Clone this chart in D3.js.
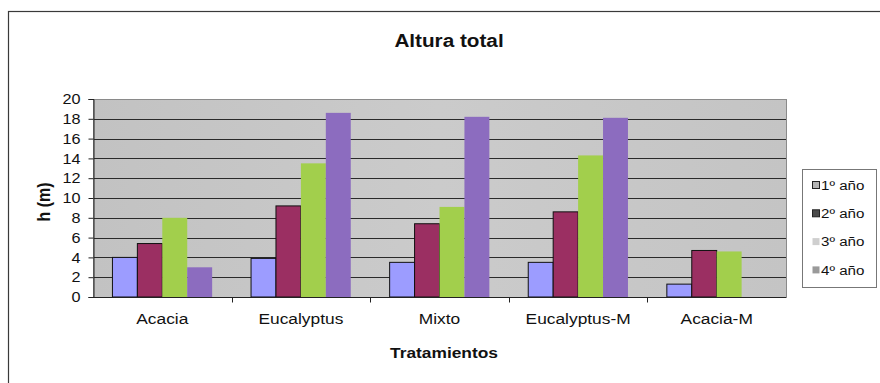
<!DOCTYPE html>
<html>
<head>
<meta charset="utf-8">
<script src="https://cdnjs.cloudflare.com/ajax/libs/d3/7.8.5/d3.min.js"></script>
<style>
  html, body { margin: 0; padding: 0; background: #fff; }
  svg text { font-family: "Liberation Sans", Arial, sans-serif; fill: #111; }
</style>
</head>
<body>
<div id="chart"></div>
<script>
// Data
const categories = ['Acacia', 'Eucalyptus', 'Mixto', 'Eucalyptus-M', 'Acacia-M'];
const seriesNames = ['1º año', '2º año', '3º año', '4º año'];
const year1 = [4.0, 3.9, 3.5, 3.5, 1.3];
const year2 = [5.4, 9.2, 7.4, 8.6, 4.7];
const year3 = [8.0, 13.5, 9.1, 14.3, 4.6];
const year4 = [3.0, 18.6, 18.2, 18.1, null];
const yTicks = [0, 2, 4, 6, 8, 10, 12, 14, 16, 18, 20];

const seriesValues = [year1, year2, year3, year4];
const barColors = ['#9c9cff', '#9b2f62', '#a2cf4c', '#8c6cbf'];
const barStroke = ['#111', '#111', 'none', 'none'];
const legendSwatch = ['#b4b4b4', '#4a4a4a', '#cfcfcf', '#9a9a9a'];

const width = 880, height = 383;
const margin = { top: 99, right: 94, bottom: 86, left: 93 };
const plot = { x: margin.left, y: margin.top, w: width - margin.left - margin.right, h: height - margin.top - margin.bottom };

// the source image is a little stretched sideways, so text gets the same squash
const sx = 1.12;

const svg = d3.select('#chart').append('svg').attr('width', width).attr('height', height);

// Outer chart frame (only left and top edges are inside the picture)
svg.append('rect')
  .attr('x', 8.5).attr('y', 11.5).attr('width', 900).attr('height', 400)
  .attr('fill', 'none').attr('stroke', '#3a3a3a').attr('stroke-width', 1.2);

// Scales
const x0 = d3.scaleBand().domain(categories).range([plot.x, plot.x + plot.w]).padding(0);
const x1 = d3.scaleBand().domain(seriesNames).range([0, x0.bandwidth()]).paddingInner(0).paddingOuter(0.78);
const y = d3.scaleLinear().domain([0, 20]).range([plot.y + plot.h, plot.y]);

// Plot background
const defs = svg.append('defs');
const grad = defs.append('linearGradient').attr('id', 'bg').attr('x1', 0).attr('y1', 0).attr('x2', 1).attr('y2', 0);
grad.append('stop').attr('offset', '0%').attr('stop-color', '#c2c2c2');
grad.append('stop').attr('offset', '50%').attr('stop-color', '#cbcbcb');
grad.append('stop').attr('offset', '100%').attr('stop-color', '#c4c4c4');

svg.append('rect')
  .attr('x', plot.x).attr('y', plot.y).attr('width', plot.w).attr('height', plot.h)
  .attr('fill', 'url(#bg)');

// Gridlines
svg.append('g').selectAll('line').data(yTicks.filter(d => d > 0)).join('line')
  .attr('x1', plot.x).attr('x2', plot.x + plot.w)
  .attr('y1', d => Math.round(y(d)) + 0.5).attr('y2', d => Math.round(y(d)) + 0.5)
  .attr('stroke', '#2a2a2a').attr('stroke-width', 1);

// Plot border
svg.append('rect')
  .attr('x', plot.x + 0.5).attr('y', plot.y + 0.5).attr('width', plot.w).attr('height', plot.h)
  .attr('fill', 'none').attr('stroke', '#8a8a8a');

// Bars
const groups = svg.append('g').selectAll('g').data(seriesNames).join('g');
groups.each(function (name, si) {
  const data = categories.map((c, ci) => ({ c, v: seriesValues[si][ci] })).filter(d => d.v != null);
  d3.select(this).selectAll('rect').data(data).join('rect')
    .attr('x', d => x0(d.c) + x1(name))
    .attr('y', d => y(d.v))
    .attr('width', x1.bandwidth())
    .attr('height', d => y(0) - y(d.v))
    .attr('fill', barColors[si])
    .attr('stroke', barStroke[si])
    .attr('stroke-width', 1);
});

// Y axis
const yAxis = d3.axisLeft(y).tickValues(yTicks).tickSize(5).tickPadding(0).tickFormat(d3.format('d'));
const yg = svg.append('g').attr('transform', `translate(${plot.x + 0.5},0)`).call(yAxis);
yg.select('.domain').attr('stroke', '#222');
yg.selectAll('.tick line').attr('stroke', '#222');
yg.selectAll('.tick text')
  .attr('font-size', 14.5).attr('fill', '#111')
  .attr('text-anchor', 'end')
  .attr('x', null)
  .attr('transform', `translate(-13,0) scale(${sx},1)`);

// X axis (category separators)
const xg = svg.append('g').attr('transform', `translate(0,${plot.y + plot.h + 0.5})`);
xg.append('line').attr('x1', plot.x).attr('x2', plot.x + plot.w).attr('stroke', '#222');
xg.selectAll('.sep').data(categories.slice(1)).join('line')
  .attr('class', 'sep')
  .attr('x1', d => Math.round(x0(d)) + 0.5).attr('x2', d => Math.round(x0(d)) + 0.5)
  .attr('y1', 0).attr('y2', 5).attr('stroke', '#222');

// Category labels
xg.selectAll('.cat').data(categories).join('text')
  .attr('class', 'cat')
  .attr('text-anchor', 'middle')
  .attr('font-size', 15.5)
  .attr('transform', d => `translate(${x0(d) + x0.bandwidth() / 2},26) scale(${sx},1)`)
  .text(d => d);

// Title
svg.append('text')
  .attr('text-anchor', 'middle')
  .attr('font-size', 18.5).attr('font-weight', 'bold')
  .attr('transform', `translate(449,47) scale(${sx},1)`)
  .text('Altura total');

// Axis titles
svg.append('text')
  .attr('text-anchor', 'middle')
  .attr('font-size', 15.5).attr('font-weight', 'bold')
  .attr('transform', `translate(444,358) scale(${sx},1)`)
  .text('Tratamientos');

svg.append('text')
  .attr('text-anchor', 'middle')
  .attr('font-size', 16).attr('font-weight', 'bold')
  .attr('transform', `translate(50,202) scale(${sx},1) rotate(-90)`)
  .text('h (m)');

// Legend
const legend = svg.append('g').attr('transform', 'translate(802,169)');
legend.append('rect')
  .attr('x', 0.5).attr('y', 0.5).attr('width', 74).attr('height', 118)
  .attr('fill', '#fff').attr('stroke', '#777');
const items = legend.selectAll('.item').data(seriesNames).join('g')
  .attr('class', 'item')
  .attr('transform', (d, i) => `translate(0,${16 + i * 28.3})`);
items.append('rect')
  .attr('x', 10.5).attr('y', -3.5).attr('width', 7).attr('height', 7)
  .attr('fill', (d, i) => legendSwatch[i])
  .attr('stroke', (d, i) => (i < 2 ? '#222' : 'none'));
items.append('text')
  .attr('font-size', 13.5)
  .attr('dy', '0.36em')
  .attr('transform', `translate(19,0) scale(${sx},1)`)
  .text(d => d);
</script>
</body>
</html>
